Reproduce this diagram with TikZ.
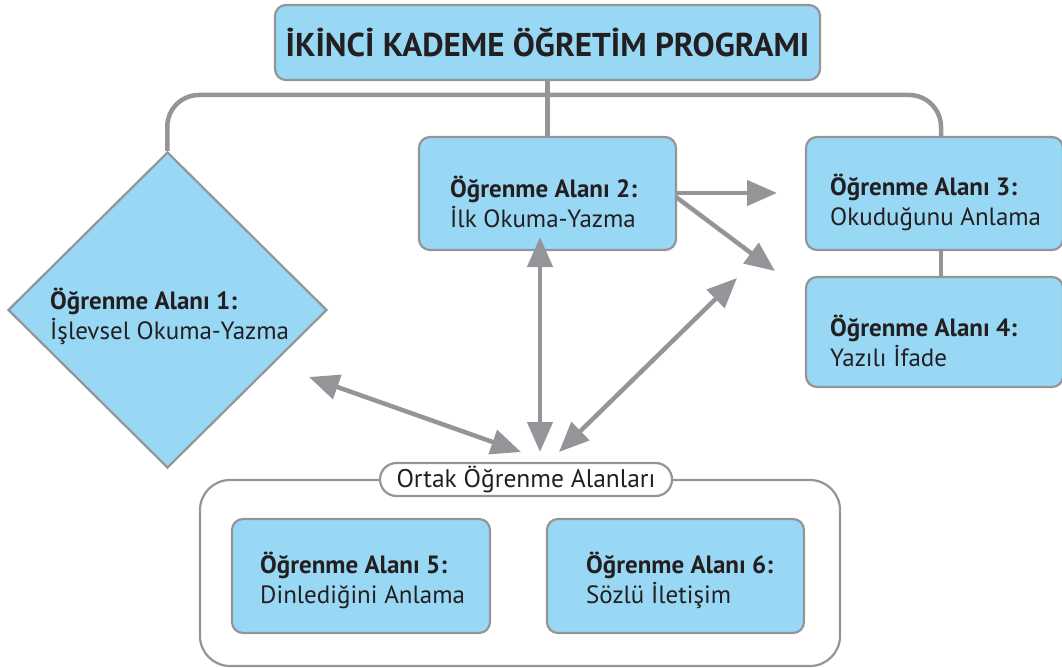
\documentclass[tikz,border=0pt]{standalone}
\usepackage{fontspec}
\setmainfont{PT Sans}
\usetikzlibrary{shapes.geometric,shapes.misc,arrows.meta}
\definecolor{boxblue}{HTML}{98D8F5}
\definecolor{linegray}{HTML}{939598}
\definecolor{txt}{HTML}{231F20}
\tikzset{
  areabox/.style={draw=linegray, line width=2.2pt, fill=boxblue, rounded corners=11pt, inner sep=0pt},
  conn/.style={draw=linegray, line width=4.5pt},
  arr/.style={draw=linegray, line width=4.5pt, -{Triangle[length=30pt,width=25pt]}},
  darr/.style={draw=linegray, line width=4.5pt, {Triangle[length=30pt,width=25pt]}-{Triangle[length=30pt,width=25pt]}},
  lbl/.style={anchor=west, align=left, text=txt, font=\fontsize{25}{30}\selectfont, inner sep=0pt},
}
\newcommand{\bt}[1]{\textbf{#1}}
\begin{document}
\begin{tikzpicture}[x=1pt,y=-1pt]
\useasboundingbox (0,0) rectangle (1062,668);
% title
\node[areabox, minimum width=545pt, minimum height=75pt, text=txt,
      font=\bfseries\fontsize{33}{38}\selectfont] (title) at (547.5,42.5)
      {İKİNCİ KADEME ÖĞRETİM PROGRAMI};
% boxes
\node[draw=linegray, line width=2.2pt, fill=boxblue, diamond, minimum width=319pt, minimum height=316pt, inner sep=0pt] (d1) at (167.5,310) {};
\node[areabox, minimum width=257pt, minimum height=113pt] (b2) at (547.5,193.5) {};
\node[areabox, minimum width=257pt, minimum height=113pt] (b3) at (934.5,193.5) {};
\node[areabox, minimum width=257pt, minimum height=110pt] (b4) at (934.5,332) {};
% common area
\node[draw=linegray, line width=2.2pt, rounded corners=30pt, minimum width=640pt, minimum height=186pt] (outer) at (520,573) {};
\node[areabox, minimum width=258pt, minimum height=114pt] (b5) at (361,576) {};
\node[areabox, minimum width=257pt, minimum height=114pt] (b6) at (675.5,576) {};
\node[draw=linegray, line width=2.2pt, fill=white, rounded rectangle, minimum width=292pt, minimum height=33pt, inner sep=0pt, text=txt, font=\fontsize{25.5}{28}\selectfont] (ortak) at (526,479.5) {Ortak Öğrenme Alanları};
% texts
\node[lbl] (t1) at (50,316) {\bt{Öğrenme Alanı 1:}\\İşlevsel Okuma-Yazma};
\node[lbl] (t2) at (450,202) {\bt{Öğrenme Alanı 2:}\\İlk Okuma-Yazma};
\node[lbl] (t3) at (830,202) {\bt{Öğrenme Alanı 3:}\\Okuduğunu Anlama};
\node[lbl] (t4) at (830,341) {\bt{Öğrenme Alanı 4:}\\Yazılı İfade};
\node[lbl] (t5) at (260,580) {\bt{Öğrenme Alanı 5:}\\Dinlediğini Anlama};
\node[lbl] (t6) at (586,580) {\bt{Öğrenme Alanı 6:}\\Sözlü İletişim};
% tree connectors
\draw[conn, rounded corners=32pt] (d1.north) -- (167,95) -- (941,95) -- (941,137);
\draw[conn] (title.south) -- (b2.north);
\draw[conn] (b3.south -| 941,0) -- (b4.north -| 941,0);
% arrows
\coordinate (p3) at (777,193);
\coordinate (p34) at (775,271);
\coordinate (c1) at (521,452);
\coordinate (c2) at (540,452);
\coordinate (c3) at (559,452);
\draw[arr] (b2.east |- 0,193) -- (p3);
\draw[arr] (676,197) -- (p34);
\draw[darr] (c2) -- ([yshift=14pt]b2.south -| 540,0);
\draw[darr] (c1) -- (309,377);
\draw[darr] (c3) -- (737,278);
\end{tikzpicture}
\end{document}
